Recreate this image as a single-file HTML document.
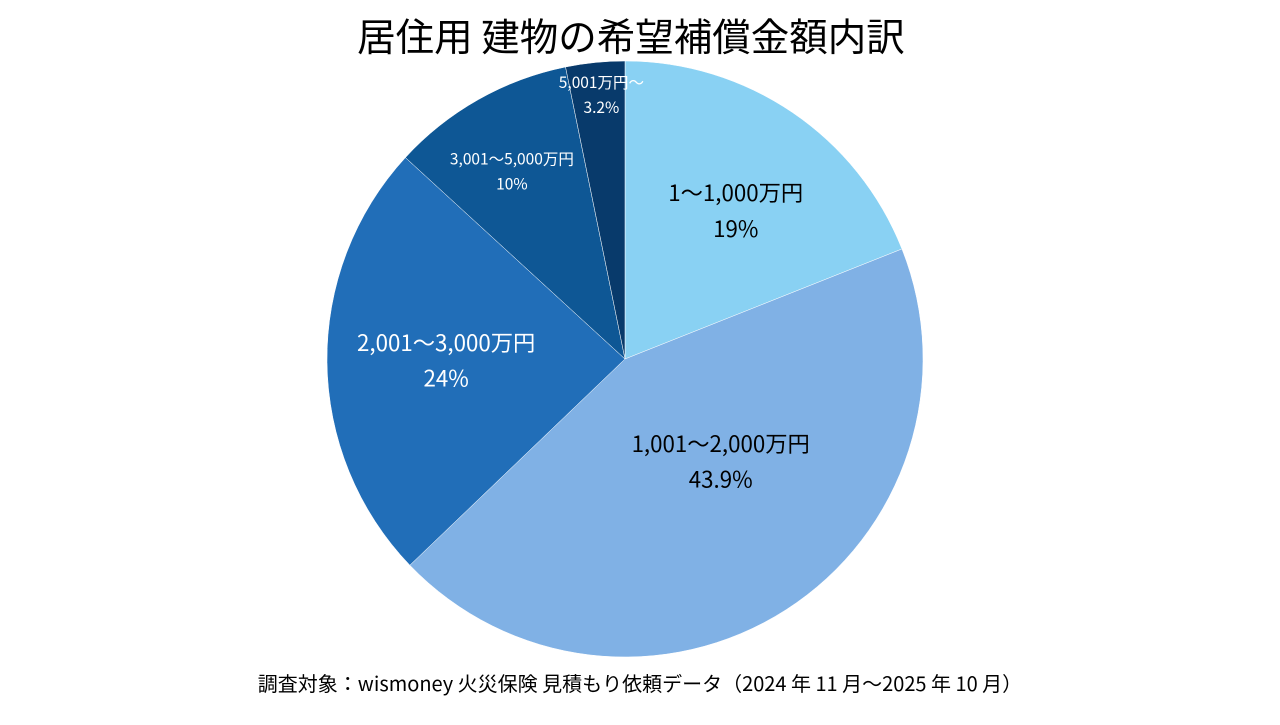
<!DOCTYPE html>
<html><head><meta charset="utf-8">
<style>
body{margin:0;background:#fff;width:1280px;height:720px;overflow:hidden;font-family:"Noto Sans CJK JP","Liberation Sans",sans-serif;}
</style></head>
<body>
<svg width="1280" height="720" id="chart" font-family="Noto Sans CJK JP, Liberation Sans, sans-serif">
<text x="631" y="51" text-anchor="middle" font-size="38.5" fill="#000">居住用 建物の希望補償金額内訳</text>
<g id="slices"></g>
<g id="labels"></g>
<text x="640" y="691" text-anchor="middle" font-size="20" fill="#000">調査対象：wismoney 火災保険 見積もり依頼データ（2024 年 11 月〜2025 年 10 月）</text>
</svg>
<script>
const categories = ["1〜1,000万円","1,001〜2,000万円","2,001〜3,000万円","3,001〜5,000万円","5,001万円〜"];
const values = [19, 43.9, 24, 10, 3.2];
const valueLabels = ["19%","43.9%","24%","10%","3.2%"];
const colors = ["#89d1f3","#80b1e5","#216eb8","#0e5795","#083a6b"];
const textColors = ["#000","#000","#fff","#fff","#fff"];
const labelR = [0.62,0.47,0.6,0.73,0.89];
const offX = [7,20,0,-6,3];
const offY = [5,-15,0,2,0];
const fontSizes = [22.3,22.3,22.3,15.5,15.5];
const cx=625, cy=359, R=298;
const total = values.reduce((a,b)=>a+b,0);
const ns="http://www.w3.org/2000/svg";
const sg=document.getElementById('slices'), lg=document.getElementById('labels');
function pt(a,r){return [cx+r*Math.sin(a), cy-r*Math.cos(a)];}
let acc=0;
values.forEach((v,i)=>{
  const a0=acc/total*2*Math.PI; acc+=v; const a1=acc/total*2*Math.PI;
  const p0=pt(a0,R), p1=pt(a1,R);
  const large=(a1-a0)>Math.PI?1:0;
  const path=document.createElementNS(ns,'path');
  path.setAttribute('d',`M${cx},${cy} L${p0[0]},${p0[1]} A${R},${R} 0 ${large} 1 ${p1[0]},${p1[1]} Z`);
  path.setAttribute('fill',colors[i]);
  path.setAttribute('stroke','#fff');
  path.setAttribute('stroke-width','0.5');
  
  
  sg.appendChild(path);
  const m=(a0+a1)/2, lp=pt(m,R*labelR[i]);
  lp[0]+=offX[i]; lp[1]+=offY[i];
  const fs=fontSizes[i];
  const t=document.createElementNS(ns,'text');
  t.setAttribute('text-anchor','middle');
  t.setAttribute('font-size',fs);
  t.setAttribute('fill',textColors[i]);
  
  
  const gap=fs*1.6;
  const s1=document.createElementNS(ns,'tspan');
  s1.setAttribute('x',lp[0]); s1.setAttribute('y',lp[1]-gap/2+fs*0.35);
  s1.textContent=categories[i];
  const s2=document.createElementNS(ns,'tspan');
  s2.setAttribute('x',lp[0]); s2.setAttribute('y',lp[1]+gap/2+fs*0.35);
  s2.textContent=valueLabels[i];
  t.appendChild(s1); t.appendChild(s2);
  lg.appendChild(t);
});
</script>
</body></html>
